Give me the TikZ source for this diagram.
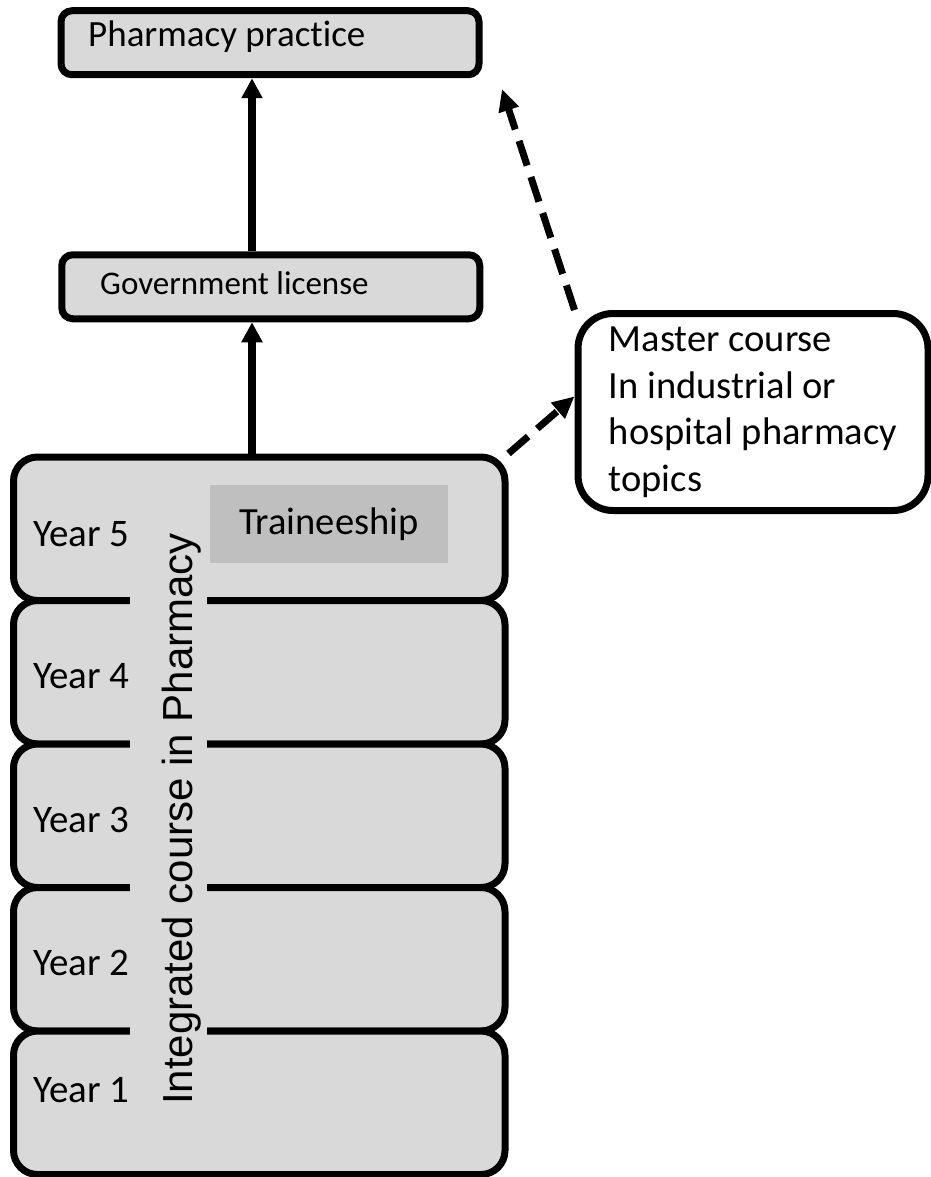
\documentclass[tikz,border=0pt]{standalone}
\usepackage{fontspec}
\setmainfont{Carlito}[Ligatures=NoCommon]
\newfontfamily\arialfont{Liberation Sans}
\usetikzlibrary{arrows.meta}
\definecolor{boxgray}{HTML}{D9D9D9}
\definecolor{traingray}{HTML}{BFBFBF}

\begin{document}
\begin{tikzpicture}[x=1pt,y=-1pt]
    % Stili
    \tikzset{
        year_box/.style={
            draw=black,
            fill=boxgray,
            line width=7pt,
            rounded corners=24pt,
            minimum width=491.5pt,
            minimum height=143.5pt,
            inner sep=0pt
        },
        year_label/.style={
            anchor=base west,
            inner sep=0pt,
            font=\fontsize{39}{46}\selectfont
        },
        top_box/.style={
            draw=black,
            fill=boxgray,
            line width=7pt,
            rounded corners=11pt,
            minimum width=418pt,
            minimum height=64pt,
            inner sep=0pt
        },
        top_label/.style={
            anchor=base west,
            inner sep=0pt
        },
        train_box/.style={
            fill=traingray,
            minimum width=238pt,
            minimum height=78pt,
            inner sep=0pt,
            font=\fontsize{38.5}{46}\selectfont
        },
        master_box/.style={
            draw=black,
            fill=white,
            line width=7pt,
            rounded corners=35pt,
            minimum width=350pt,
            minimum height=197pt,
            align=left,
            font=\fontsize{38.5}{46.5}\selectfont
        },
        course_label/.style={
            rotate=90,
            anchor=base,
            fill=boxgray,
            text height=62pt,
            text depth=15pt,
            inner ysep=0pt,
            inner xsep=4pt,
            font=\arialfont\fontsize{42}{50}\selectfont
        },
        up_arrow/.style={
            line width=8pt,
            -{Triangle[length=20pt,width=20pt]}
        },
        dash_arrow/.style={
            line width=7pt,
            dash pattern=on 26pt off 12pt,
            -{Triangle[length=22pt,width=20pt]}
        }
    }

    \useasboundingbox (0,0) rectangle (930,1177);

    % Anni del corso
    \node[year_box] (year5) at (259.25,528.75) {};
    \node[year_box] (year4) at (259.25,672.25) {};
    \node[year_box] (year3) at (259.25,815.75) {};
    \node[year_box] (year2) at (259.25,959.25) {};
    \node[year_box] (year1) at (259.25,1102.75) {};

    \node[year_label] (label5) at (33,546) {Year 5};
    \node[year_label] (label4) at (33,688) {Year 4};
    \node[year_label] (label3) at (33,832) {Year 3};
    \node[year_label] (label2) at (33,975) {Year 2};
    \node[year_label] (label1) at (33,1102) {Year 1};

    \node[train_box] (train) at (329,524) {Traineeship};

    % Scritta verticale
    \node[course_label] (course) at (192,819) {Integrated course in Pharmacy};

    % Licenza e pratica
    \node[top_box] (licence) at (270.75,286.75) {};
    \node[top_label, font=\fontsize{33}{40}\selectfont] (licence_text) at (100,294) {Government license};

    \node[top_box] (practice) at (270,42.75) {};
    \node[top_label, font=\fontsize{37}{44}\selectfont] (practice_text) at (88,47) {Pharmacy practice};

    % Master
    \node[master_box] (master) at (753,412) {Master course\\In industrial or\\hospital pharmacy\\topics};

    % Frecce
    \coordinate (axis) at (252,0);
    \coordinate (tip_end) at (502,89);
    \draw[up_arrow] (year5.north -| axis) -- (licence.south -| axis);
    \draw[up_arrow] (licence.north -| axis) -- (practice.south -| axis);

    \draw[dash_arrow] (year5.north east) -- (master.175);
    \draw[dash_arrow] (master.north west) -- (tip_end);

\end{tikzpicture}
\end{document}
